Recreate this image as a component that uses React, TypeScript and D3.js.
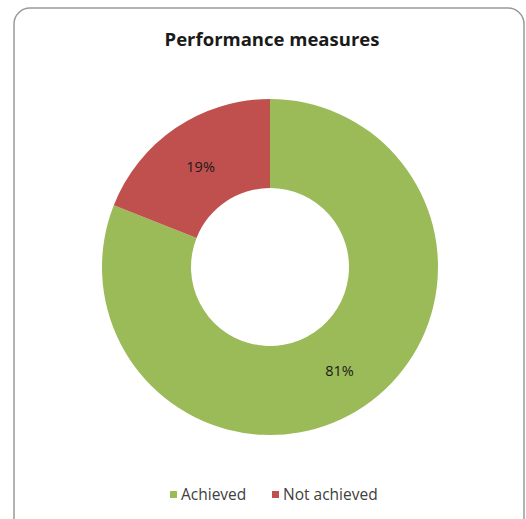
import React from "react";
import * as d3 from "d3";

const categories = ["Achieved", "Not achieved"];
const values = [81, 19];
const labels = ["81%", "19%"];
const colors = ["#9BBB59", "#C0504D"];
const title = "Performance measures";

export default function App() {
  const W = 526, H = 519;
  const cx = 270, cy = 267;
  const outerR = 168, innerR = 79;
  const pie = d3.pie<number>().sort(null).value((d) => d);
  const arcs = pie(values);
  const arc = d3.arc<d3.PieArcDatum<number>>().innerRadius(innerR).outerRadius(outerR);
  const labelArc = d3.arc<d3.PieArcDatum<number>>().innerRadius((innerR + outerR) / 2).outerRadius((innerR + outerR) / 2);

  const legendX = [170, 272];
  return (
    <svg width={W} height={H} style={{ position: "absolute", left: 0, top: 0, background: "#fff" }}
      fontFamily="'Open Sans', 'Liberation Sans', sans-serif">
      <rect x={14} y={8} width={510} height={530} rx={16} fill="#fff" stroke="#9a9a9a" strokeWidth={1.5} />
      <text x={272} y={46} textAnchor="middle" fontSize={18.5} fontWeight="bold" fill="#1a1a1a">{title}</text>
      <g transform={`translate(${cx},${cy})`}>
        {arcs.map((a, i) => (
          <path key={i} d={arc(a) || ""} fill={colors[i]} />
        ))}
        {arcs.map((a, i) => {
          const [x, y] = labelArc.centroid(a);
          return (
            <text key={"l" + i} x={x} y={y + 2} dy="0.35em" textAnchor="middle" fontSize={14.5} fill="#1a1a1a">{labels[i]}</text>
          );
        })}
      </g>
      <g>
        {categories.map((c, i) => (
          <g key={c} transform={`translate(${legendX[i]},495)`}>
            <rect x={0} y={-4} width={7} height={7} fill={colors[i]} />
            <text x={11} y={0} dy="0.35em" fontSize={15.5} fill="#404040">{c}</text>
          </g>
        ))}
      </g>
    </svg>
  );
}
